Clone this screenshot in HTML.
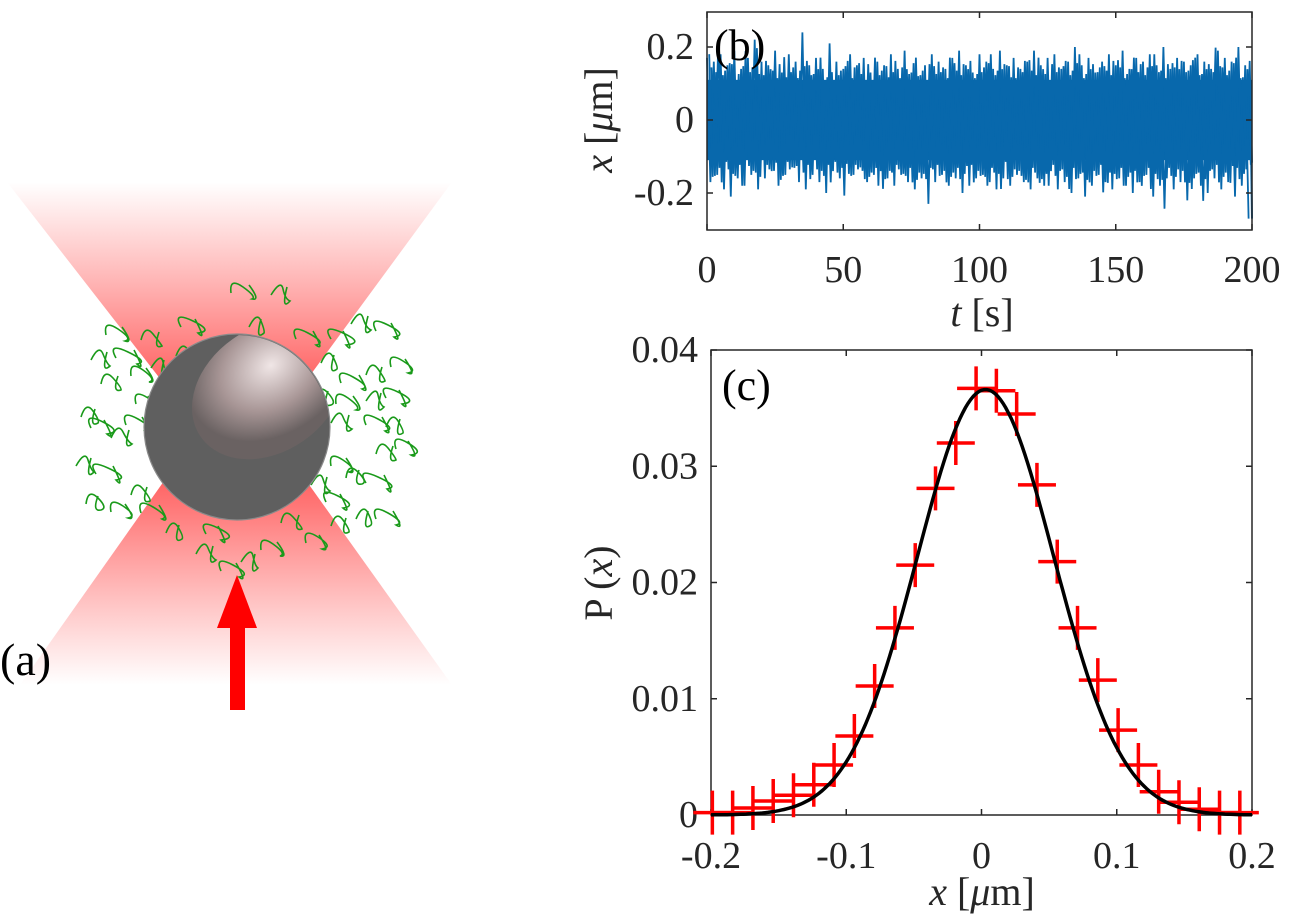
<!DOCTYPE html>
<html><head><meta charset="utf-8">
<style>
body{margin:0;background:#fff;}
svg{display:block;}
svg text{font-family:"Liberation Serif","DejaVu Serif",serif;}
</style></head>
<body>
<svg id="fig" width="1290" height="916" viewBox="0 0 1290 916" xmlns="http://www.w3.org/2000/svg" font-family="Liberation Serif, serif">
<defs>
<linearGradient id="gTop" x1="0" y1="0" x2="0" y2="1">
<stop offset="0" stop-color="#ff5a5a" stop-opacity="0"/>
<stop offset="0.75" stop-color="#ff4a4a" stop-opacity="0.8"/>
<stop offset="1" stop-color="#ff3a3a" stop-opacity="1"/>
</linearGradient>
<linearGradient id="gBot" x1="0" y1="0" x2="0" y2="1">
<stop offset="0" stop-color="#ff3a3a" stop-opacity="1"/>
<stop offset="0.3" stop-color="#ff4a4a" stop-opacity="0.75"/>
<stop offset="1" stop-color="#ff5a5a" stop-opacity="0"/>
</linearGradient>
<radialGradient id="gSphere" cx="0.6" cy="0.35" r="0.55">
<stop offset="0" stop-color="#f0e6e6"/>
<stop offset="0.6" stop-color="#a89696"/>
<stop offset="1" stop-color="#6a6262"/>
</radialGradient>
<clipPath id="sphereClip"><circle cx="237" cy="427" r="92"/></clipPath>
</defs>

<!-- Panel (a) -->
<g>
<polygon points="7,182 452,182 270,430 200,430" fill="url(#gTop)"/>
<polygon points="200,430 270,430 452,685 20,685" fill="url(#gBot)"/>
<g id="squiggles" fill="none" stroke="#1a9a1a" stroke-width="1.6"></g>
<circle cx="237" cy="427" r="93" fill="#5f5f5f" stroke="#8a8a8a" stroke-width="1.2"/>
<g clip-path="url(#sphereClip)">
<ellipse cx="268" cy="390" rx="82" ry="62" transform="rotate(-35 268 390)" fill="url(#gSphere)"/>
</g>
<g>
<polygon points="237,575 257,628 217,628" fill="#ff0000"/>
<rect x="230" y="627" width="15" height="83" fill="#ff0000"/>
</g>
<text x="0" y="675" font-size="46">(a)</text>
</g>

<g id="panelB"></g>
<g id="panelC"></g>
</svg>

<script>
// ---------- Panel (b) data ----------
const bTicksX = [0, 50, 100, 150, 200];
const bTickLabelsX = ["0", "50", "100", "150", "200"];
const bTicksY = [-0.2, 0, 0.2];
const bTickLabelsY = ["-0.2", "0", "0.2"];
// upper and lower excursion envelope of x(t) (µm), evenly spaced over 0..200 s
const bUpper = [0.17,0.16,0.18,0.15,0.19,0.14,0.17,0.22,0.16,0.15,0.19,0.13,0.18,0.16,0.24,0.15,0.17,0.14,0.21,0.16,
 0.14,0.18,0.15,0.17,0.13,0.16,0.15,0.18,0.14,0.19,0.13,0.12,0.15,0.18,0.16,0.14,0.17,0.19,0.15,0.13,
 0.18,0.16,0.14,0.19,0.15,0.17,0.14,0.16,0.19,0.15,0.17,0.18,0.14,0.16,0.20,0.15,0.17,0.13,0.16,0.18,
 0.15,0.19,0.14,0.17,0.16,0.18,0.15,0.20,0.14,0.17,0.16,0.15,0.18,0.16,0.14,0.19,0.17,0.16,0.20,0.15];
const bLower = [-0.17,-0.15,-0.19,-0.21,-0.16,-0.18,-0.15,-0.19,-0.16,-0.14,-0.18,-0.15,-0.13,-0.17,-0.19,-0.15,-0.17,-0.20,-0.14,-0.16,
 -0.12,-0.15,-0.13,-0.17,-0.15,-0.14,-0.16,-0.18,-0.15,-0.17,-0.19,-0.16,-0.23,-0.17,-0.15,-0.18,-0.16,-0.20,-0.18,-0.16,
 -0.15,-0.17,-0.19,-0.16,-0.18,-0.15,-0.17,-0.19,-0.16,-0.18,-0.14,-0.19,-0.17,-0.20,-0.16,-0.21,-0.18,-0.15,-0.17,-0.19,
 -0.16,-0.18,-0.20,-0.17,-0.15,-0.21,-0.18,-0.16,-0.19,-0.17,-0.22,-0.16,-0.18,-0.20,-0.16,-0.19,-0.17,-0.21,-0.18,-0.27];
const bCore = [0.11, -0.11];

// ---------- Panel (c) data ----------
const cBinX = [-0.199,-0.184,-0.169,-0.154,-0.139,-0.124,-0.109,-0.094,-0.079,-0.064,-0.049,-0.034,-0.019,-0.004,
 0.011,0.026,0.041,0.056,0.071,0.086,0.101,0.116,0.131,0.146,0.161,0.176,0.191];
const cBinP = [0.0002,0.0002,0.0006,0.0012,0.0017,0.0026,0.0043,0.0068,0.0111,0.0161,0.0215,0.0281,0.0320,0.0367,
 0.0365,0.0345,0.0284,0.0218,0.0161,0.0116,0.0073,0.0043,0.0020,0.0011,0.0005,0.0002,0.0002];
const cFitParams = [0.0366, 0.003, 0.0505]; // amplitude, mean, sigma of Gaussian fit
const cTicksX = [-0.2,-0.1,0,0.1,0.2];
const cTickLabelsX = ["-0.2","-0.1","0","0.1","0.2"];
const cTicksY = [0,0.01,0.02,0.03,0.04];
const cTickLabelsY = ["0","0.01","0.02","0.03","0.04"];

const NS = "http://www.w3.org/2000/svg";
const SERIF = '"Liberation Serif", "DejaVu Serif", serif';
function mk(parent, tag, attrs, text){
  const e = document.createElementNS(NS, tag);
  for (const k in attrs) e.setAttribute(k, attrs[k]);
  if (tag === 'text') e.setAttribute('font-family', SERIF);
  if (text !== undefined) e.textContent = text;
  parent.appendChild(e);
  return e;
}

// ---------- squiggles (decoration) ----------
(function(){
  const g = document.getElementById('squiggles');
  const spots = [[240,290],[280,290],[190,320],[258,318],[305,335],[185,350],[215,345],[150,337],[115,330],[260,345],[340,330],[360,320],[385,325],
  [330,355],[350,380],[375,370],[400,360],[325,390],[345,400],[375,395],[395,390],[340,420],[375,420],[395,420],[405,440],[385,450],[340,460],[355,470],
  [375,480],[320,480],[335,495],[365,510],[385,515],[340,520],[315,535],[290,520],[270,545],[250,555],[215,525],[205,550],[230,565],[175,525],[150,510],
  [140,490],[120,505],[95,495],[105,470],[85,460],[100,420],[120,435],[135,420],[90,410],[145,395],[110,380],[140,370],[160,360],[125,355],[100,355]];
  spots.forEach(function(s, i){
    const x = s[0], y = s[1];
    const a = (i*37)%7 - 3, b = (i*53)%9 - 4;
    const f = (i % 2) ? 1 : -1;
    const d = "M"+(x-9)+","+(y+6+a)+" q"+(f*(6+b))+",-16 "+(12)+",-6 t"+(6-a)+","+(12)+" q"+(-9*f)+","+(6+b)+" "+(-3)+",-14";
    const p = mk(g, 'path', {d: d});
    
    
  });
})();

// ---------- Panel (b) ----------
(function(){
  const g = document.getElementById('panelB');
  const L = 707, R = 1252, T = 12, B = 230;
  const X = t => L + (t - 0) / 200 * (R - L);
  const Y = v => 120 - v * 365;
  const core = mk(g, 'rect', {x: L, y: Y(bCore[0]), width: R - L, height: Y(bCore[1]) - Y(bCore[0]), fill: '#0868ac'});
  
  
  const n = bUpper.length;
  const offsets = [[0, 0, 1.0], [0.33, 7, 0.82], [0.66, 13, 0.9]];
  offsets.forEach(function(o){
    let pts = [];
    for (let i = 0; i < n; i++) {
      const t0 = (i + o[0]) / n * 200, t1 = (i + o[0] + 0.5) / n * 200;
      pts.push(X(Math.min(t0,200)).toFixed(1) + ',' + Y(bUpper[(i + o[1]) % n] * o[2]).toFixed(1));
      pts.push(X(Math.min(t1,200)).toFixed(1) + ',' + Y(bLower[(i + o[1]) % n] * o[2]).toFixed(1));
    }
    const tr = mk(g, 'polyline', {points: pts.join(' '), fill: 'none', stroke: '#0868ac', 'stroke-width': 1.8});
    
    
  });
  const end = mk(g, 'path', {d: 'M'+X(199.5)+','+Y(0)+'L'+X(200)+','+Y(bLower[n-1]), stroke: '#0868ac', 'stroke-width': 2});
  
  
  const box = mk(g, 'rect', {x: L, y: T, width: R - L, height: B - T, fill: 'none', stroke: '#262626', 'stroke-width': 1.5});
  
  
  bTicksX.forEach(function(t, i){
    const x = X(t);
    const tk = mk(g, 'path', {d: 'M'+x+','+B+'v-6M'+x+','+T+'v6', stroke: '#262626', 'stroke-width': 1.5});
    
    
    const lb = mk(g, 'text', {x: x, y: 282, 'font-size': 38, 'text-anchor': 'middle', fill: '#262626'}, bTickLabelsX[i]);
    
    
  });
  bTicksY.forEach(function(v, i){
    const y = Y(v);
    const tk = mk(g, 'path', {d: 'M'+L+','+y+'h6M'+R+','+y+'h-6', stroke: '#262626', 'stroke-width': 1.5});
    
    
    const lb = mk(g, 'text', {x: 694, y: y + 12, 'font-size': 38, 'text-anchor': 'end', fill: '#262626'}, bTickLabelsY[i]);
    
    
  });
  const xl = mk(g, 'text', {x: 982, y: 326, 'font-size': 40, 'text-anchor': 'middle', fill: '#262626'});
  xl.innerHTML = '<tspan font-style="italic">t</tspan> [s]';
  
  
  const yl = mk(g, 'text', {x: 0, y: 0, 'font-size': 40, 'text-anchor': 'middle', fill: '#262626', transform: 'translate(612,120) rotate(-90)'});
  yl.innerHTML = '<tspan font-style="italic">x</tspan> [<tspan font-style="italic">μ</tspan>m]';
  
  
  const pl = mk(g, 'text', {x: 714, y: 60, 'font-size': 44, fill: '#000'}, '(b)');
  
  
})();

// ---------- Panel (c) ----------
(function(){
  const g = document.getElementById('panelC');
  const L = 711, R = 1252, T = 350, B = 815;
  const X = x => L + (x + 0.2) / 0.4 * (R - L);
  const Y = p => B - p / 0.04 * (B - T);
  const box = mk(g, 'rect', {x: L, y: T, width: R - L, height: B - T, fill: 'none', stroke: '#262626', 'stroke-width': 1.5});
  
  
  cTicksX.forEach(function(t, i){
    const x = X(t);
    const tk = mk(g, 'path', {d: 'M'+x+','+B+'v-6M'+x+','+T+'v6', stroke: '#262626', 'stroke-width': 1.5});
    
    
    const lb = mk(g, 'text', {x: x, y: 868, 'font-size': 38, 'text-anchor': 'middle', fill: '#262626'}, cTickLabelsX[i]);
    
    
  });
  cTicksY.forEach(function(v, i){
    const y = Y(v);
    const tk = mk(g, 'path', {d: 'M'+L+','+y+'h6M'+R+','+y+'h-6', stroke: '#262626', 'stroke-width': 1.5});
    
    
    const lb = mk(g, 'text', {x: 698, y: y + 12, 'font-size': 38, 'text-anchor': 'end', fill: '#262626'}, cTickLabelsY[i]);
    
    
  });
  cBinX.forEach(function(x, i){
    const cx = X(x), cy = Y(cBinP[i]);
    const m = mk(g, 'path', {d: 'M'+(cx-19)+','+cy+'h38M'+cx+','+(cy-22)+'v44', stroke: '#ff0000', 'stroke-width': 3.5});
    
    
  });
  let pts = [];
  for (let k = 0; k <= 200; k++) {
    const x = -0.2 + k * 0.002;
    const p = cFitParams[0] * Math.exp(-Math.pow(x - cFitParams[1], 2) / (2 * cFitParams[2] * cFitParams[2]));
    pts.push(X(x).toFixed(1) + ',' + Y(p).toFixed(1));
  }
  const fit = mk(g, 'polyline', {points: pts.join(' '), fill: 'none', stroke: '#000', 'stroke-width': 3.5});
  
  
  const xl = mk(g, 'text', {x: 982, y: 905, 'font-size': 40, 'text-anchor': 'middle', fill: '#262626'});
  xl.innerHTML = '<tspan font-style="italic">x</tspan> [<tspan font-style="italic">μ</tspan>m]';
  
  
  const yl = mk(g, 'text', {x: 0, y: 0, 'font-size': 40, 'text-anchor': 'middle', fill: '#262626', transform: 'translate(612,583) rotate(-90)'});
  yl.innerHTML = 'P (<tspan font-style="italic">x</tspan>)';
  
  
  const pl = mk(g, 'text', {x: 722, y: 400, 'font-size': 44, fill: '#000'}, '(c)');
  
  
})();
</script>
</body></html>
